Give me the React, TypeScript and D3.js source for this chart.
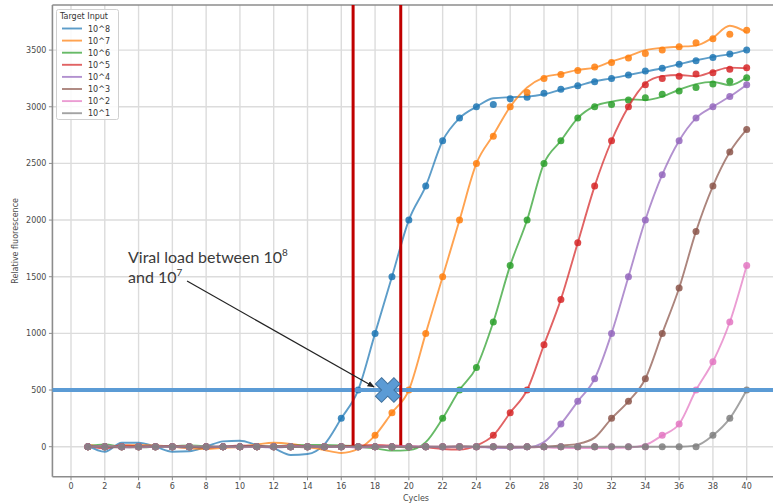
import React from 'react';
import * as d3 from 'd3';

// qPCR amplification curves with threshold overlay

const width = 773;
const height = 503;

const cycles = [1, 2, 3, 4, 5, 6, 7, 8, 9, 10, 11, 12, 13, 14, 15, 16, 17, 18, 19, 20,
  21, 22, 23, 24, 25, 26, 27, 28, 29, 30, 31, 32, 33, 34, 35, 36, 37, 38, 39, 40];

const labels = ['10^8', '10^7', '10^6', '10^5', '10^4', '10^3', '10^2', '10^1'];
const colors = ['#1f77b4', '#ff7f0e', '#2ca02c', '#d62728', '#9467bd', '#8c564b', '#e377c2', '#7f7f7f'];

// measured points (dots)
const blueDots = [0, 0, 0, 0, 0, 0, 0, 0, 0, 0, 0, 0, 0, 0, 0, 250, 500, 1000, 1500, 2000,
  2300, 2700, 2900, 3000, 3020, 3070, 3085, 3120, 3155, 3185, 3220, 3250, 3280, 3315, 3340, 3375, 3405, 3435, 3465, 3500];
const orangeDots = [0, 0, 0, 0, 0, 0, 0, 0, 0, 0, 0, 0, 0, 0, 0, 0, 0, 100, 300, 500,
  1000, 1500, 2000, 2500, 2740, 3000, 3125, 3250, 3285, 3320, 3350, 3390, 3430, 3470, 3500, 3530, 3565, 3600, 3640, 3675];
const greenDots = [0, 0, 0, 0, 0, 0, 0, 0, 0, 0, 0, 0, 0, 0, 0, 0, 0, 0, 0, 0,
  0, 250, 500, 700, 1100, 1600, 2000, 2500, 2700, 2900, 3000, 3020, 3060, 3080, 3110, 3140, 3170, 3200, 3225, 3255];
const redDots = [0, 0, 0, 0, 0, 0, 0, 0, 0, 0, 0, 0, 0, 0, 0, 0, 0, 0, 0, 0,
  0, 0, 0, 0, 100, 300, 500, 900, 1300, 1800, 2300, 2700, 3000, 3195, 3250, 3270, 3290, 3300, 3330, 3345];
const purpleDots = [0, 0, 0, 0, 0, 0, 0, 0, 0, 0, 0, 0, 0, 0, 0, 0, 0, 0, 0, 0,
  0, 0, 0, 0, 0, 0, 0, 0, 200, 400, 600, 1000, 1500, 2000, 2400, 2700, 2900, 3000, 3090, 3195];
const brownDots = [0, 0, 0, 0, 0, 0, 0, 0, 0, 0, 0, 0, 0, 0, 0, 0, 0, 0, 0, 0,
  0, 0, 0, 0, 0, 0, 0, 0, 0, 0, 0, 250, 400, 600, 1000, 1400, 1900, 2300, 2600, 2800];
const pinkDots = [0, 0, 0, 0, 0, 0, 0, 0, 0, 0, 0, 0, 0, 0, 0, 0, 0, 0, 0, 0,
  0, 0, 0, 0, 0, 0, 0, 0, 0, 0, 0, 0, 0, 0, 100, 200, 500, 750, 1100, 1600];
const grayDots = [0, 0, 0, 0, 0, 0, 0, 0, 0, 0, 0, 0, 0, 0, 0, 0, 0, 0, 0, 0,
  0, 0, 0, 0, 0, 0, 0, 0, 0, 0, 0, 0, 0, 0, 0, 0, 0, 100, 250, 500];

// fitted curves (lines)
const blueFit = [10, -44, 35, 35, 0, -44, -40, 0, 47, 53, 15, -15, -73, -65, 20, 250, 500, 1000, 1500, 2000,
  2300, 2700, 2900, 3000, 3075, 3084, 3089, 3110, 3150, 3185, 3225, 3250, 3280, 3310, 3340, 3375, 3410, 3440, 3465, 3500];
const orangeFit = [20, 0, 10, 15, 10, 0, -15, -20, -10, 0, 20, 35, 25, 0, -30, -55, -20, 100, 300, 500,
  1000, 1500, 2000, 2500, 2750, 3000, 3170, 3260, 3290, 3325, 3345, 3400, 3445, 3500, 3520, 3530, 3540, 3610, 3715, 3655];
const greenFit = [5, 20, 0, -5, 0, 5, 10, 5, 0, 5, 0, 5, 10, 15, 15, 10, 0, -15, -35, -30,
  40, 250, 500, 700, 1100, 1600, 2000, 2500, 2700, 2900, 3005, 3045, 3065, 3060, 3090, 3150, 3200, 3220, 3190, 3260];
const redFit = [10, -15, 10, 5, 0, 5, 0, -5, 0, 10, 5, 0, 10, 5, 0, 5, 10, 15, 10, 5,
  -5, -20, -25, 10, 100, 300, 500, 900, 1300, 1800, 2300, 2700, 3000, 3205, 3270, 3280, 3270, 3310, 3345, 3340];
const purpleFit = [0, 5, -5, 0, 5, 0, -5, 0, 0, 5, 0, -5, 0, 5, 0, 0, -5, 0, 5, 0,
  0, -5, 0, 0, -10, -12, -8, 40, 200, 400, 600, 1000, 1500, 2000, 2400, 2700, 2900, 3000, 3090, 3195];
const brownFit = [5, 0, -5, 0, 0, 5, 0, -5, 0, 0, 5, 0, 0, -5, 0, 0, 5, 0, 0, -5,
  0, 0, 5, 0, 0, -5, -5, 0, 10, 25, 80, 250, 400, 600, 1000, 1400, 1900, 2300, 2600, 2800];
const pinkFit = [0, 5, 0, -5, 0, 0, 5, 0, 0, -5, 0, 0, 5, 0, 0, 0, -5, 0, 0, 5,
  0, 0, 0, -5, 0, 0, 0, -5, -10, -12, -12, -10, -8, 15, 100, 200, 500, 750, 1100, 1600];
const grayFit = [0, 0, 0, 0, 0, 0, 0, 0, 0, 0, 0, 0, 0, 0, 0, 0, 0, 0, 0, 0,
  0, 0, 0, 0, 0, 0, 0, 0, 0, 0, 0, 0, 0, 0, 0, 0, 10, 100, 250, 500];

const dotSeries = [blueDots, orangeDots, greenDots, redDots, purpleDots, brownDots, pinkDots, grayDots];
const fitSeries = [blueFit, orangeFit, greenFit, redFit, purpleFit, brownFit, pinkFit, grayFit];

const xTicks = [0, 2, 4, 6, 8, 10, 12, 14, 16, 18, 20, 22, 24, 26, 28, 30, 32, 34, 36, 38, 40];
const yTicks = [0, 500, 1000, 1500, 2000, 2500, 3000, 3500];

// overlay annotations
const threshold = 500;
const cutCycles = [16.7, 19.52];
const crossing = { cycle: 18.75, value: 500 };
const arrowFrom = { cycle: 6.87, value: 1462 };
const arrowTo = { cycle: 17.94, value: 527 };

const xLim = [-1.1, 41.95];
const yLim = [-265, 3898];

const x = d3.scaleLinear().domain([0, 40]).range([71, 746.7]);
const y = d3.scaleLinear().domain([0, 3500]).range([446.7, 50.1]);

const left = x(xLim[0]);
const right = x(xLim[1]);
const top = y(yLim[1]);
const bottom = y(yLim[0]);

const tickFont = 'DejaVu Sans, sans-serif';

const App = () => {
  const line = d3.line<number>()
    .x((d, i) => x(cycles[i]))
    .y(d => y(d))
    .curve(d3.curveMonotoneX);

  const cross = d3.symbol().type(d3.symbolCross).size(380)();

  const ax = x(arrowFrom.cycle), ay = y(arrowFrom.value);
  const bx = x(arrowTo.cycle), by = y(arrowTo.value);

  return (
    <svg width={width} height={height} style={{ position: 'absolute', left: 0, top: 0, background: '#fff' }}>
      <defs>
        <clipPath id="plot">
          <rect x={left} y={top} width={right - left} height={bottom - top} />
        </clipPath>
        <marker id="head" viewBox="0 0 10 10" refX="9" refY="5" markerWidth="6" markerHeight="6" orient="auto">
          <path d="M0,1 L10,5 L0,9 z" fill="#222" />
        </marker>
      </defs>

      {/* grid */}
      <g stroke="#dcdcdc" strokeWidth={1.4}>
        {xTicks.map(t => <line key={'gx' + t} x1={x(t)} x2={x(t)} y1={top} y2={bottom} />)}
        {yTicks.map(t => <line key={'gy' + t} x1={left} x2={right} y1={y(t)} y2={y(t)} />)}
      </g>

      {/* series */}
      <g clipPath="url(#plot)">
        {fitSeries.map((s, k) => (
          <g key={labels[k]}>
            <path d={line(s) || ''} fill="none" stroke={colors[k]} strokeWidth={1.9} strokeOpacity={0.72} />
            {dotSeries[k].map((v, i) => (
              <circle key={i} cx={x(cycles[i])} cy={y(v)} r={3.5} fill={colors[k]} fillOpacity={0.85} />
            ))}
          </g>
        ))}
      </g>

      {/* spines */}
      <g stroke="#8c8c8c" strokeWidth={1.6} fill="none">
        <line x1={left} x2={left} y1={top} y2={bottom} />
        <line x1={left} x2={right} y1={bottom} y2={bottom} />
        <line x1={left} x2={right} y1={top} y2={top} />
      </g>

      {/* x axis */}
      <g fontFamily={tickFont} fontSize={8} fill="#4a4a4a">
        {xTicks.map(t => (
          <g key={'xt' + t}>
            <line x1={x(t)} x2={x(t)} y1={bottom} y2={bottom + 3.5} stroke="#8c8c8c" />
            <text x={x(t)} y={bottom + 12.5} textAnchor="middle">{t}</text>
          </g>
        ))}
        <text x={(left + right) / 2} y={bottom + 24} textAnchor="middle">Cycles</text>
      </g>

      {/* y axis */}
      <g fontFamily={tickFont} fontSize={8} fill="#4a4a4a">
        {yTicks.map(t => (
          <g key={'yt' + t}>
            <line x1={left - 3.5} x2={left} y1={y(t)} y2={y(t)} stroke="#8c8c8c" />
            <text x={left - 6} y={y(t) + 3} textAnchor="end">{t}</text>
          </g>
        ))}
        <text transform={`translate(18, ${(top + bottom) / 2}) rotate(-90)`} textAnchor="middle">Relative fluorescence</text>
      </g>

      {/* legend */}
      <g fontFamily={tickFont} fontSize={8} fill="#333">
        <rect x={56.5} y={9.5} width={62} height={110} rx={2} fill="#fff" fillOpacity={0.85} stroke="#d0d0d0" />
        <text x={60} y={19}>Target Input</text>
        {labels.map((l, k) => (
          <g key={'lg' + l} transform={`translate(0, ${28.5 + k * 12.1})`}>
            <line x1={62} x2={82} y1={0} y2={0} stroke={colors[k]} strokeWidth={1.9} strokeOpacity={0.72} />
            <text x={88} y={3}>{l}</text>
          </g>
        ))}
      </g>

      {/* threshold and cut lines */}
      <line x1={left} x2={width} y1={y(threshold)} y2={y(threshold)} stroke="#5b9bd5" strokeWidth={4} />
      {cutCycles.map(c => (
        <line key={'cut' + c} x1={x(c)} x2={x(c)} y1={top} y2={y(12)} stroke="#c00000" strokeWidth={3} />
      ))}

      {/* crossing marker */}
      <path d={cross} transform={`translate(${x(crossing.cycle)}, ${y(crossing.value)}) rotate(45)`}
        fill="#5b9bd5" stroke="#41719c" strokeWidth={1} />

      {/* annotation */}
      <line x1={ax} y1={ay} x2={bx} y2={by} stroke="#222" strokeWidth={1.2} markerEnd="url(#head)" />
      <g fontFamily="Lato, sans-serif" fontSize={16} fill="#3a3a3a">
        <text x={128} y={262.5}>Viral load between 10<tspan fontSize={10} dy={-7}>8</tspan></text>
        <text x={128} y={282.5}>and 10<tspan fontSize={10} dy={-7}>7</tspan></text>
      </g>
    </svg>
  );
};

export default App;
